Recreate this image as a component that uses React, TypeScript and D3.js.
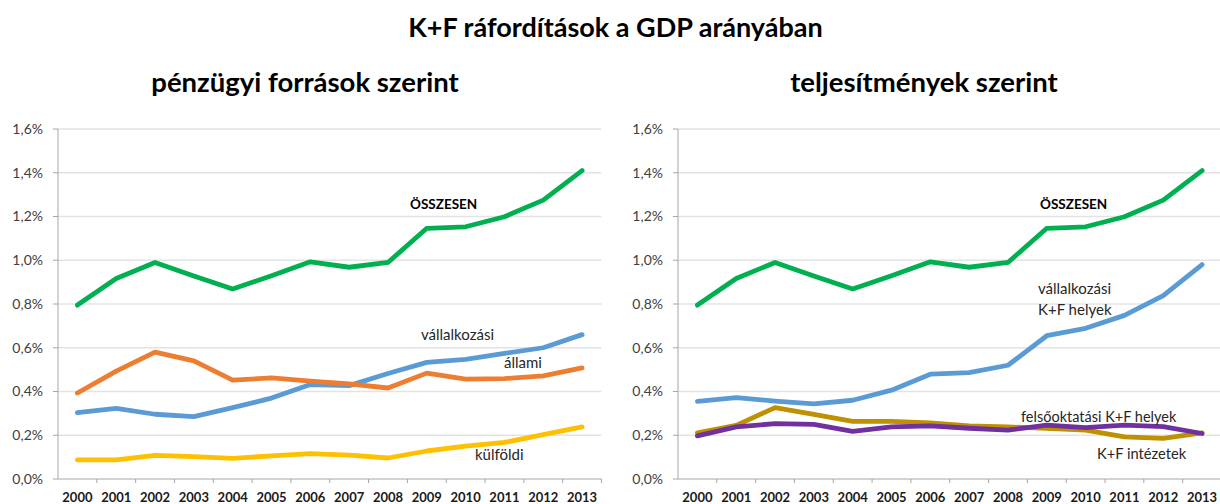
import React from "react";
import * as d3 from "d3";

const years = ["2000","2001","2002","2003","2004","2005","2006","2007","2008","2009","2010","2011","2012","2013"];
const yTicks = [0, 0.2, 0.4, 0.6, 0.8, 1.0, 1.2, 1.4, 1.6];

const osszesen = [0.795, 0.917, 0.99, 0.928, 0.869, 0.929, 0.993, 0.968, 0.99, 1.146, 1.153, 1.199, 1.275, 1.41];
const vallalkozasiForras = [0.303, 0.323, 0.296, 0.285, 0.326, 0.370, 0.432, 0.427, 0.482, 0.533, 0.547, 0.574, 0.600, 0.660];
const allami = [0.393, 0.493, 0.580, 0.540, 0.452, 0.462, 0.447, 0.435, 0.416, 0.484, 0.457, 0.459, 0.471, 0.508];
const kulfoldi = [0.087, 0.087, 0.108, 0.102, 0.094, 0.106, 0.116, 0.109, 0.096, 0.128, 0.150, 0.167, 0.203, 0.238];

const vallalkozasiHelyek = [0.355, 0.372, 0.356, 0.343, 0.360, 0.406, 0.479, 0.486, 0.520, 0.655, 0.689, 0.748, 0.838, 0.980];
const felsooktatasi = [0.211, 0.245, 0.326, 0.295, 0.263, 0.263, 0.256, 0.243, 0.238, 0.232, 0.223, 0.193, 0.186, 0.211];
const intezetek = [0.197, 0.238, 0.253, 0.250, 0.218, 0.238, 0.243, 0.232, 0.223, 0.246, 0.235, 0.246, 0.239, 0.208];

const FONT = "Lato, 'Open Sans', sans-serif";

type Series = { values: number[]; color: string };
type Label = { text: string; x: number; y: number; bold?: boolean; anchor?: string; size?: number };

function Panel({ left, right, series, labels }: { left: number; right: number; series: Series[]; labels: Label[] }) {
  const top = 129, bottom = 479;
  const x = d3.scaleBand<string>().domain(years).range([left, right]).paddingInner(0).paddingOuter(0);
  const y = d3.scaleLinear().domain([0, 1.6]).range([bottom, top]);
  const line = d3.line<number>()
    .x((_, i) => (x(years[i]) as number) + x.bandwidth() / 2)
    .y((d) => y(d));
  const fmt = (v: number) => v.toFixed(1).replace(".", ",") + "%";
  return (
    <g>
      {yTicks.map((t) => (
        <g key={t}>
          {t > 0 && <line x1={left} x2={right} y1={y(t)} y2={y(t)} stroke="#e3e3e3" strokeWidth={1.5} />}
          <line x1={left - 5} x2={left} y1={y(t)} y2={y(t)} stroke="#a6a6a6" strokeWidth={1} />
          <text x={left - 15} y={y(t)} dy="0.35em" textAnchor="end" fontSize={14} fill="#404040" fontFamily={FONT}>{fmt(t)}</text>
        </g>
      ))}
      <line x1={left} x2={left} y1={top} y2={bottom} stroke="#a6a6a6" strokeWidth={1} />
      <line x1={left} x2={right} y1={bottom} y2={bottom} stroke="#a6a6a6" strokeWidth={1} />
      {years.map((yr) => (
        <g key={yr}>
          <line x1={(x(yr) as number) + x.bandwidth()} x2={(x(yr) as number) + x.bandwidth()} y1={bottom} y2={bottom + 4} stroke="#a6a6a6" />
          <text x={(x(yr) as number) + x.bandwidth() / 2} y={497} dy="0.35em" textAnchor="middle" fontSize={13} fontWeight="bold" fill="#1a1a1a" fontFamily={FONT}>{yr}</text>
        </g>
      ))}
      {series.map((s, i) => (
        <path key={i} d={line(s.values) as string} fill="none" stroke={s.color} strokeWidth={4.8} strokeLinejoin="round" strokeLinecap="round" />
      ))}
      {labels.map((l, i) => (
        <text key={i} x={l.x} y={l.y} dy="0.35em" textAnchor={l.anchor || "start"} fontSize={l.size || (l.bold ? 13.5 : 15)} fontWeight={l.bold ? "bold" : "normal"} fill={l.bold ? "#000" : "#262626"} fontFamily={FONT}>{l.text}</text>
      ))}
    </g>
  );
}

export default function App() {
  return (
    <svg width={1220} height={504} style={{ position: "absolute", left: 0, top: 0, background: "#fff" }}>
      <text x={615.5} y={28} dy="0.35em" textAnchor="middle" fontSize={27} fontWeight="bold" fontFamily={FONT} fill="#000">K+F ráfordítások a GDP arányában</text>
      <text x={305} y={82} dy="0.35em" textAnchor="middle" fontSize={27.5} fontWeight="bold" fontFamily={FONT} fill="#000">pénzügyi források szerint</text>
      <text x={924} y={82} dy="0.35em" textAnchor="middle" fontSize={27.5} fontWeight="bold" fontFamily={FONT} fill="#000">teljesítmények szerint</text>
      <Panel
        left={58}
        right={601.5}
        series={[
          { values: kulfoldi, color: "#FFC000" },
          { values: vallalkozasiForras, color: "#5B9BD5" },
          { values: allami, color: "#ED7D31" },
          { values: osszesen, color: "#00B050" },
        ]}
        labels={[
          { text: "ÖSSZESEN", x: 410, y: 204, bold: true },
          { text: "vállalkozási", x: 421, y: 335 },
          { text: "állami", x: 504, y: 363 },
          { text: "külföldi", x: 475, y: 455 },
        ]}
      />
      <Panel
        left={678}
        right={1221.5}
        series={[
          { values: felsooktatasi, color: "#BF9000" },
          { values: intezetek, color: "#7030A0" },
          { values: vallalkozasiHelyek, color: "#5B9BD5" },
          { values: osszesen, color: "#00B050" },
        ]}
        labels={[
          { text: "ÖSSZESEN", x: 1040, y: 204, bold: true },
          { text: "vállalkozási", x: 1038, y: 289 },
          { text: "K+F helyek", x: 1038, y: 310 },
          { text: "felsőoktatási K+F helyek", x: 1021, y: 417, size: 14.5 },
          { text: "K+F intézetek", x: 1097, y: 454, size: 14.7 },
        ]}
      />
    </svg>
  );
}
